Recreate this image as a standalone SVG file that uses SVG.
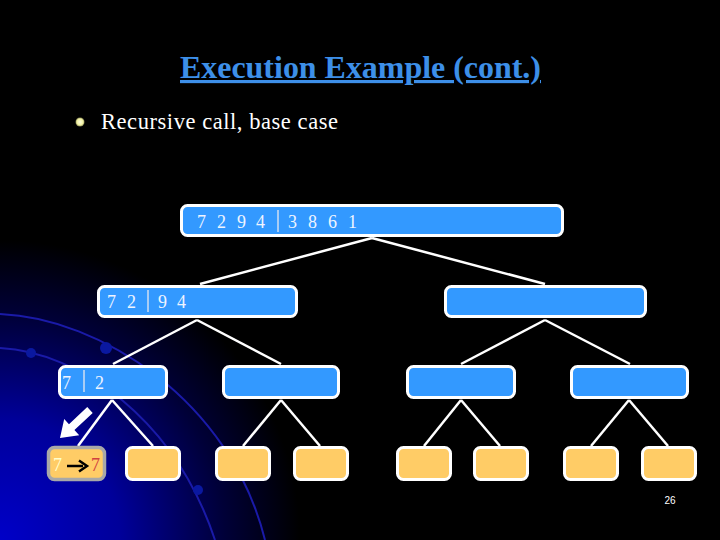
<svg xmlns="http://www.w3.org/2000/svg" width="720" height="540" viewBox="0 0 720 540">
<defs>
<radialGradient id="bg" cx="0" cy="540" r="300" gradientUnits="userSpaceOnUse">
<stop offset="0" stop-color="#0000c8"/>
<stop offset="0.4" stop-color="#00009a"/>
<stop offset="0.75" stop-color="#000038"/>
<stop offset="1" stop-color="#000000"/>
</radialGradient>
<radialGradient id="bul" cx="0.5" cy="0.5" r="0.5">
<stop offset="0" stop-color="#ffffe0"/>
<stop offset="0.7" stop-color="#f0f0a0"/>
<stop offset="1" stop-color="#808050"/>
</radialGradient>
<style>
.blue{fill:#3399ff;stroke:#ffffff;stroke-width:3}
.leaf{fill:#ffcc66;stroke:#ffffff;stroke-width:3}
.con line{stroke:#ffffff;stroke-width:2.5}
.serif{font-family:"Liberation Serif","Times New Roman",serif}
.num{font-family:"Liberation Serif",serif;font-size:18px;fill:#eef4ff}
.div{stroke:#a9cdf5;stroke-width:2}
.arc{fill:none;stroke:#1a1aa8;stroke-width:2}
</style>
</defs>
<rect width="720" height="540" fill="#000"/>
<rect x="0" y="200" width="400" height="340" fill="url(#bg)"/>
<g id="background-arcs">
<path class="arc" d="M0,314 C100,318 230,400 265,540"/>
<path class="arc" d="M0,348 C80,352 175,420 215,540"/>
<circle cx="31" cy="353" r="5" fill="#0a18a0"/>
<circle cx="106" cy="348" r="6" fill="#0a18a0"/>
<circle cx="198" cy="490" r="5" fill="#0a18a0"/>
</g>
<g id="title">
<text class="serif" x="180" y="78" font-weight="bold" font-size="31.5" fill="#3d8fe8" text-decoration="underline" textLength="361" lengthAdjust="spacingAndGlyphs">Execution Example (cont.)</text>
</g>
<g id="bullet">
<circle cx="80" cy="122" r="4.5" fill="url(#bul)"/>
<text class="serif" x="101" y="129" font-size="22.5" fill="#ffffff" textLength="237" lengthAdjust="spacing">Recursive call, base case</text>
</g>
<g id="connectors" class="con">
<line x1="372" y1="238" x2="200" y2="284"/>
<line x1="372" y1="238" x2="545" y2="284"/>
<line x1="197" y1="320" x2="113" y2="364"/>
<line x1="197" y1="320" x2="281" y2="364"/>
<line x1="545" y1="320" x2="461" y2="364"/>
<line x1="545" y1="320" x2="630" y2="364"/>
<line x1="112" y1="400" x2="78" y2="446"/>
<line x1="112" y1="400" x2="153" y2="446"/>
<line x1="281" y1="400" x2="243" y2="446"/>
<line x1="281" y1="400" x2="320" y2="446"/>
<line x1="461" y1="400" x2="424" y2="446"/>
<line x1="461" y1="400" x2="500" y2="446"/>
<line x1="629" y1="400" x2="591" y2="446"/>
<line x1="629" y1="400" x2="668" y2="446"/>
</g>
<g id="root">
<rect class="blue" x="181.5" y="205.5" width="381" height="30" rx="6"/>
<text class="num" x="197 217 237 256" y="228">7294</text>
<line class="div" x1="278" y1="210" x2="278" y2="232"/>
<text class="num" x="288 308 328 348" y="228">3861</text>
</g>
<g id="n-l">
<rect class="blue" x="98.5" y="286.5" width="198" height="30" rx="6"/>
<text class="num" x="107 127" y="308">72</text>
<line class="div" x1="148" y1="290" x2="148" y2="312"/>
<text class="num" x="158 177" y="308">94</text>
</g>
<g id="n-r">
<rect class="blue" x="445.5" y="286.5" width="200" height="30" rx="6"/>
</g>
<g id="n-ll">
<rect class="blue" x="59.5" y="366.5" width="107" height="31" rx="6"/>
<text class="num" x="62" y="389">7</text>
<line class="div" x1="84" y1="370" x2="84" y2="392"/>
<text class="num" x="95" y="389">2</text>
</g>
<g id="n-lr"><rect class="blue" x="223.5" y="366.5" width="115" height="31" rx="6"/></g>
<g id="n-rl"><rect class="blue" x="407.5" y="366.5" width="107" height="31" rx="6"/></g>
<g id="n-rr"><rect class="blue" x="571.5" y="366.5" width="116" height="31" rx="6"/></g>
<g id="leaf1">
<rect x="48.5" y="447.5" width="56" height="32" rx="6" fill="#ffcc66" stroke="#a8a8a8" stroke-width="3.5"/>
<text class="serif" x="53" y="471" font-size="18" fill="#ffffcc">7</text>
<line x1="67" y1="466" x2="83" y2="466" stroke="#000" stroke-width="2.5"/>
<path d="M79,460.5 L87,466 L79,471.5" fill="none" stroke="#000" stroke-width="2.5"/>
<text class="serif" x="91" y="471" font-size="18" fill="#d04040">7</text>
</g>
<g id="leaf2"><rect class="leaf" x="126.5" y="447.5" width="53" height="32" rx="6"/></g>
<g id="leaf3"><rect class="leaf" x="216.5" y="447.5" width="53" height="32" rx="6"/></g>
<g id="leaf4"><rect class="leaf" x="294.5" y="447.5" width="53" height="32" rx="6"/></g>
<g id="leaf5"><rect class="leaf" x="397.5" y="447.5" width="53" height="32" rx="6"/></g>
<g id="leaf6"><rect class="leaf" x="474.5" y="447.5" width="53" height="32" rx="6"/></g>
<g id="leaf7"><rect class="leaf" x="564.5" y="447.5" width="53" height="32" rx="6"/></g>
<g id="leaf8"><rect class="leaf" x="642.5" y="447.5" width="53" height="32" rx="6"/></g>
<g id="pointer">
<polygon transform="translate(60,438) rotate(137)" points="0,0 -16,-11 -16,-4 -41,-4 -41,4 -16,4 -16,11" fill="#ffffff"/>
</g>
<text x="670" y="504" text-anchor="middle" font-family="Liberation Sans,sans-serif" font-size="10" fill="#ffffff">26</text>
</svg>
